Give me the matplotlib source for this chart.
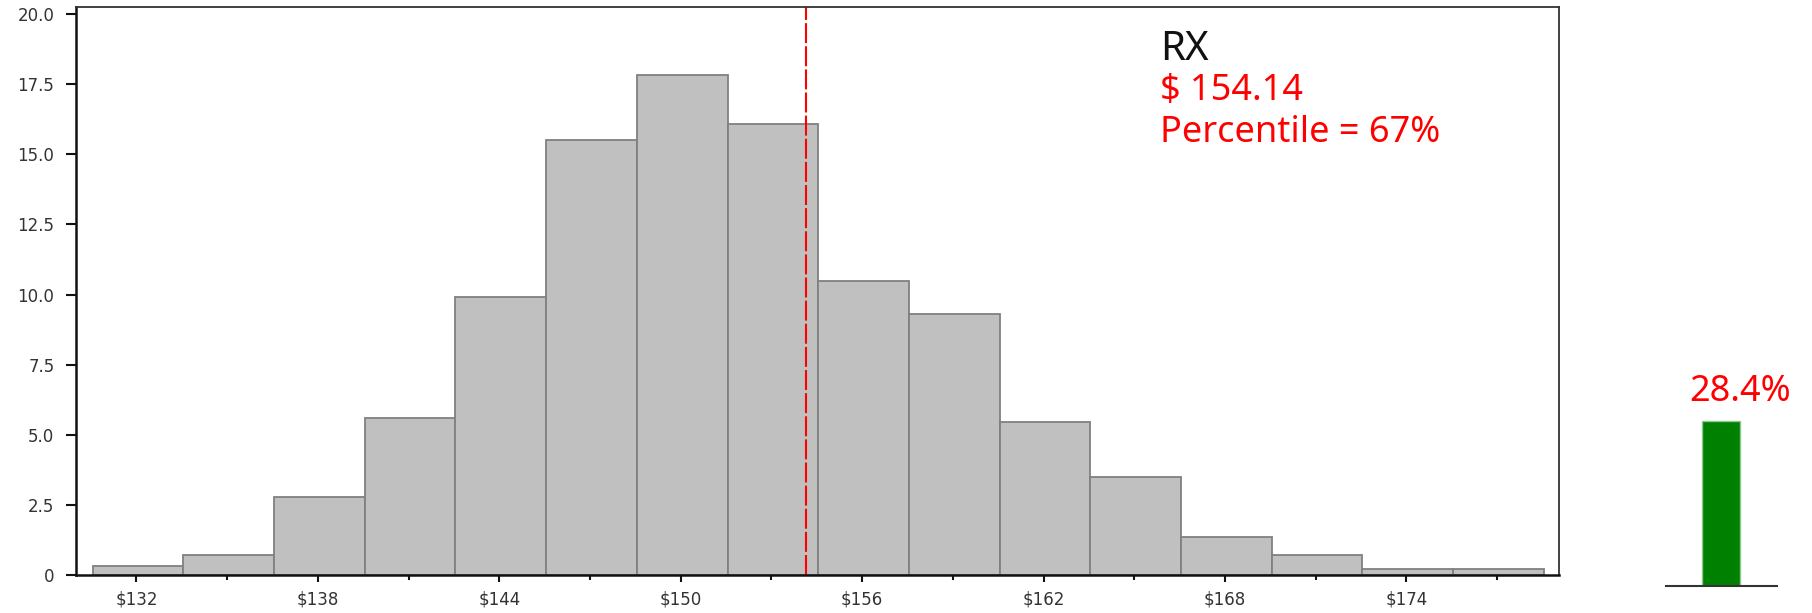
"""Price distribution histogram with percentile marker and share bar"""
import numpy as np
import matplotlib
matplotlib.use("Agg")
import matplotlib.pyplot as plt

# histogram data (percent of simulations per price bin)
bin_edges = [130.55, 133.55, 136.55, 139.55, 142.55, 145.55, 148.55, 151.55, 154.55,
             157.55, 160.55, 163.55, 166.55, 169.55, 172.55, 175.55, 178.55]
percent = [0.32, 0.71, 2.78, 5.59, 9.91, 15.52, 17.82, 16.09, 10.49,
           9.29, 5.44, 3.48, 1.37, 0.71, 0.20, 0.20]

label_name = "RX"
current_price = 154.14
percentile = 67
share_value = 28.4

x_major = [132, 138, 144, 150, 156, 162, 168, 174]
x_minor = [135, 141, 147, 153, 159, 165, 171, 177]
x_labels = ["$" + str(v) for v in x_major]
y_ticks = [0, 2.5, 5.0, 7.5, 10.0, 12.5, 15.0, 17.5, 20.0]
y_labels = ["0", "2.5", "5.0", "7.5", "10.0", "12.5", "15.0", "17.5", "20.0"]

tick_color = "#333333"

fig = plt.figure(figsize=(18.12, 6.13), dpi=100)
ax = fig.add_axes([0.04194, 0.06199, 0.81844, 0.92659])

edges = np.array(bin_edges)
ax.bar(edges[:-1], percent, width=np.diff(edges), align="edge",
       color="#c0c0c0", edgecolor="#808080", linewidth=1.3)

line = ax.axvline(current_price, color="red", linewidth=1.5)
line.set_dashes((9.6, 1.5))

ax.set_xlim(130.0, 179.05)
ax.set_ylim(0, 20.25)
ax.set_xticks(x_major)
ax.set_xticklabels(x_labels)
ax.set_xticks(x_minor, minor=True)
ax.set_yticks(y_ticks)
ax.set_yticklabels(y_labels)

ax.tick_params(axis="y", length=7.5, width=1.5, pad=8, labelsize=12,
               colors="#111111", labelcolor=tick_color)
ax.tick_params(axis="x", which="major", length=5, width=1.5, pad=6, labelsize=12,
               colors="#111111", labelcolor=tick_color)
ax.tick_params(axis="x", which="minor", length=3.5, width=1.5, colors="#111111")

for side in ["left", "bottom"]:
    ax.spines[side].set_linewidth(1.8)
    ax.spines[side].set_color("#111111")
for side in ["top", "right"]:
    ax.spines[side].set_linewidth(1.3)
    ax.spines[side].set_color("#333333")

ax.text(0.731, 0.9067, label_name, transform=ax.transAxes, va="baseline",
        fontsize=29, family="Noto Sans", color="#111111")
ax.text(0.731, 0.8363, "$ %.2f" % current_price, transform=ax.transAxes,
        va="baseline", fontsize=26, family="Noto Sans", color="red")
ax.text(0.731, 0.7629, "Percentile = %d%%" % percentile, transform=ax.transAxes,
        va="baseline", fontsize=26, family="Noto Sans", color="red")

# small share bar on the right
ax2 = fig.add_axes([0.9192, 0.04454, 0.06126, 0.94404])
ax2.bar([0], [share_value], width=0.34, color="#008000",
        edgecolor="#8fc88f", linewidth=1)
ax2.set_xlim(-0.5, 0.5)
ax2.set_ylim(0, 100)
ax2.text(0.17, 32, "%.1f%%" % share_value, ha="center", va="baseline",
         fontsize=26, family="Noto Sans", color="red")
for side in ["left", "right", "top"]:
    ax2.spines[side].set_visible(False)
ax2.spines["bottom"].set_linewidth(1.5)
ax2.spines["bottom"].set_color("#333333")
ax2.set_xticks([])
ax2.set_yticks([])
ax2.patch.set_alpha(0)

fig.savefig("out.png", dpi=100)
